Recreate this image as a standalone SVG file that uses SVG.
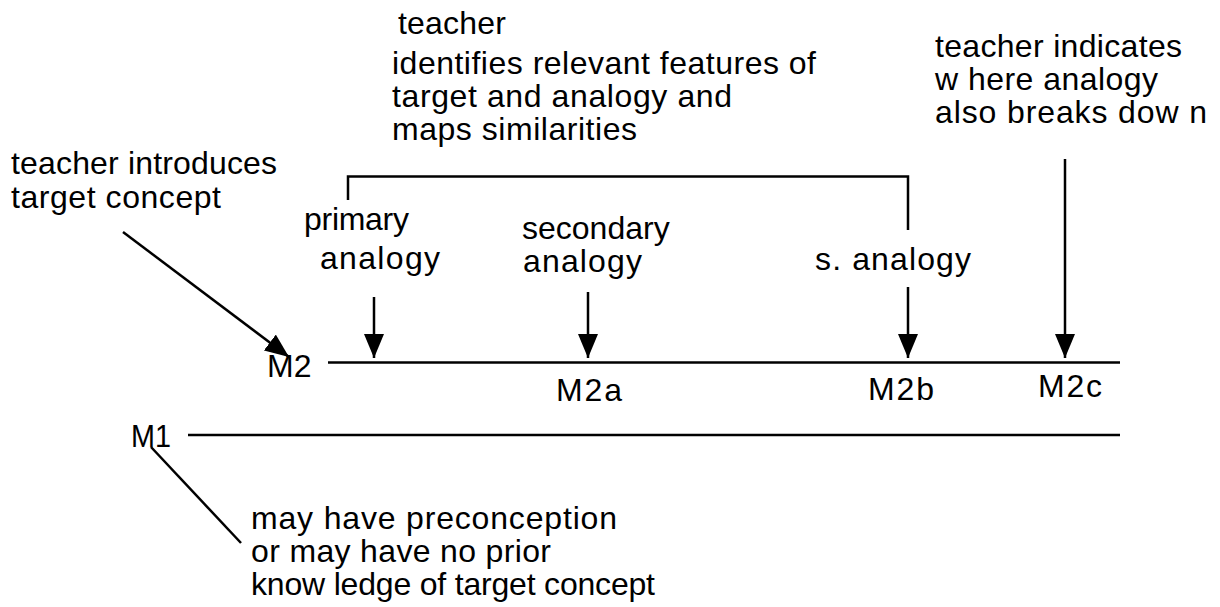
<svg xmlns="http://www.w3.org/2000/svg" width="1220" height="607" viewBox="0 0 1220 607">
  <defs>
    <marker id="headd" viewBox="0 0 24 20" refX="24" refY="10" markerWidth="24" markerHeight="20" markerUnits="userSpaceOnUse" orient="auto">
      <path d="M0,0 L24,10 L0,20 Z" fill="#000"/>
    </marker>
  </defs>
  <style>
    text { font-family: "Liberation Sans", Arial, sans-serif; font-size: 32px; fill: #000; }
    .ln { stroke: #000; stroke-width: 2.5; fill: none; }
    .arrow { stroke: #000; stroke-width: 2.5; fill: none; marker-end: url(#headd); }
  </style>
  <rect width="1220" height="607" fill="#fff"/>

  <!-- timelines -->
  <g id="timelines">
    <line class="ln" x1="328" y1="362.5" x2="1120" y2="362.5"/>
    <line class="ln" x1="188" y1="435" x2="1120" y2="435"/>
  </g>

  <!-- connectors -->
  <g id="connectors">
    <path class="ln" d="M348,200 V176.5 H908 V230"/>
    <line class="arrow" x1="123" y1="232" x2="289" y2="357"/>
    <line class="arrow" x1="374" y1="297" x2="374" y2="358"/>
    <line class="arrow" x1="588" y1="292" x2="588" y2="358"/>
    <line class="arrow" x1="908" y1="287" x2="908" y2="358"/>
    <line class="arrow" x1="1065" y1="159" x2="1065" y2="358"/>
    <line class="ln" x1="151" y1="447" x2="241" y2="543"/>
  </g>

  <g id="label-m2"><text x="267" y="377">M2</text></g>
  <g id="label-m1"><text x="131" y="447" textLength="40" lengthAdjust="spacingAndGlyphs">M1</text></g>
  <g id="label-m2a"><text x="556" y="401" textLength="66" lengthAdjust="spacing">M2a</text></g>
  <g id="label-m2b"><text x="868" y="400" textLength="66" lengthAdjust="spacing">M2b</text></g>
  <g id="label-m2c"><text x="1038" y="397" textLength="64" lengthAdjust="spacing">M2c</text></g>

  <g id="note-introduce">
    <text x="11" y="174" textLength="266" lengthAdjust="spacing">teacher introduces</text>
    <text x="11" y="208" textLength="210" lengthAdjust="spacing">target concept</text>
  </g>

  <g id="note-identify">
    <text x="398" y="34" textLength="108" lengthAdjust="spacing">teacher</text>
    <text x="392" y="74" textLength="424" lengthAdjust="spacing">identifies relevant features of</text>
    <text x="392" y="107" textLength="340" lengthAdjust="spacing">target and analogy and</text>
    <text x="392" y="140" textLength="245" lengthAdjust="spacing">maps similarities</text>
  </g>

  <g id="note-breakdown">
    <text x="935" y="57" textLength="247" lengthAdjust="spacing">teacher indicates</text>
    <text x="935" y="90" textLength="223" lengthAdjust="spacing">w here analogy</text>
    <text x="935" y="123" textLength="272" lengthAdjust="spacing">also breaks dow n</text>
  </g>

  <g id="label-primary">
    <text x="304" y="230" textLength="105" lengthAdjust="spacing">primary</text>
    <text x="320" y="269" textLength="120" lengthAdjust="spacing">analogy</text>
  </g>
  <g id="label-secondary">
    <text x="522" y="239">secondary</text>
    <text x="523" y="272" textLength="119" lengthAdjust="spacing">analogy</text>
  </g>
  <g id="label-s-analogy"><text x="815" y="270" textLength="156" lengthAdjust="spacing">s. analogy</text></g>

  <g id="note-prior">
    <text x="251" y="529" textLength="366" lengthAdjust="spacing">may have preconception</text>
    <text x="251" y="562" textLength="300" lengthAdjust="spacing">or may have no prior</text>
    <text x="251" y="595" textLength="404" lengthAdjust="spacing">know ledge of target concept</text>
  </g>
</svg>
